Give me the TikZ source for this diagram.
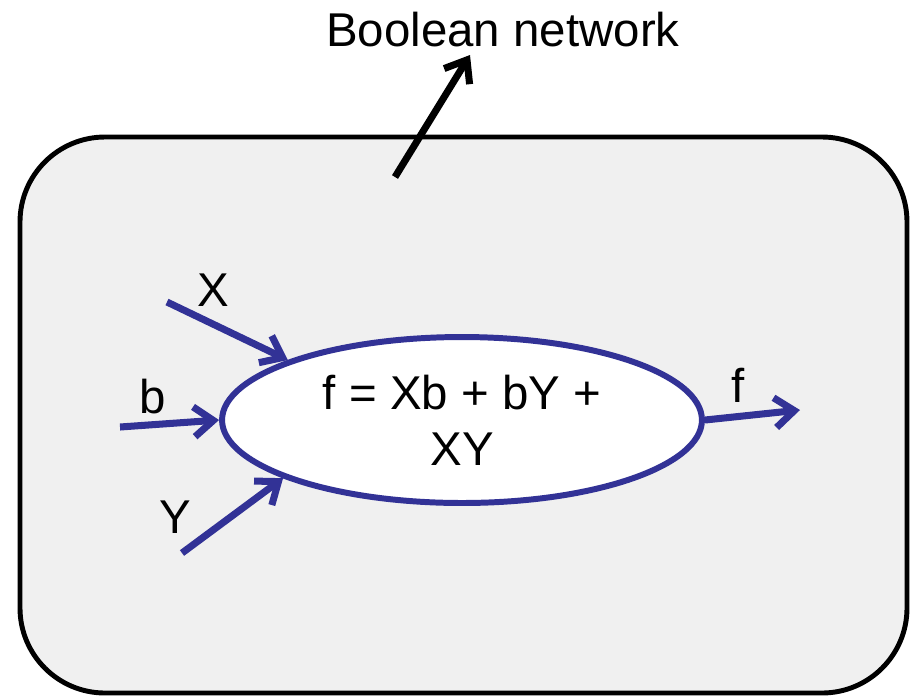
\documentclass[tikz,border=0pt]{standalone}
\usepackage{fontspec}
\setmainfont{Liberation Sans}
\usetikzlibrary{shapes.geometric,arrows.meta}

\definecolor{netblue}{RGB}{50,50,150}
\definecolor{boxgray}{RGB}{240,240,240}

\tikzset{
    label/.style={font=\fontsize{27}{32}\selectfont, inner sep=0pt},
    gate/.style={ellipse, draw=netblue, fill=white, line width=3.4pt,
        minimum width=9.6cm, minimum height=3.32cm, inner sep=0pt,
        align=center, font=\fontsize{27}{32}\selectfont},
    wire/.style={draw=netblue, line width=4pt,
        -{Straight Barb[length=11pt,width=17pt]}},
}

\begin{document}
\begin{tikzpicture}[x=0.02cm,y=-0.02cm]
        \useasboundingbox (0,0) rectangle (912,698);

        % Coordinates
        \coordinate (xin) at (167,302);
        \coordinate (bin) at (120,427);
        \coordinate (yin) at (182,553);
        \coordinate (fout) at (800,410);
        \coordinate (ptr) at (395,177);
        \coordinate (ptrtip) at (470,55);

        % Network box
        \draw[line width=2.8pt, fill=boxgray, rounded corners=1.7cm]
            (20,137) rectangle (907,693);

        % Nodes
        \node[gate] (gate) at (462,420) {f = Xb + bY +\\XY};
        \node[label] (title) at (503,30) {Boolean network};
        \node[label] (xlab) at (213,290) {X};
        \node[label] (blab) at (153,397) {b};
        \node[label] (ylab) at (175,517) {Y};
        \node[label] (flab) at (738,385) {f};

        % Drawing
        \draw[wire] (xin) -- (gate.161);
        \draw[wire] (bin) -- (gate.180);
        \draw[wire] (yin) -- (gate.198);
        \draw[wire] (gate.0) -- (fout);
        \draw[line width=4pt, -{Straight Barb[length=11pt,width=17pt]}]
            (ptr) -- (ptrtip);
        \end{tikzpicture}
\end{document}
